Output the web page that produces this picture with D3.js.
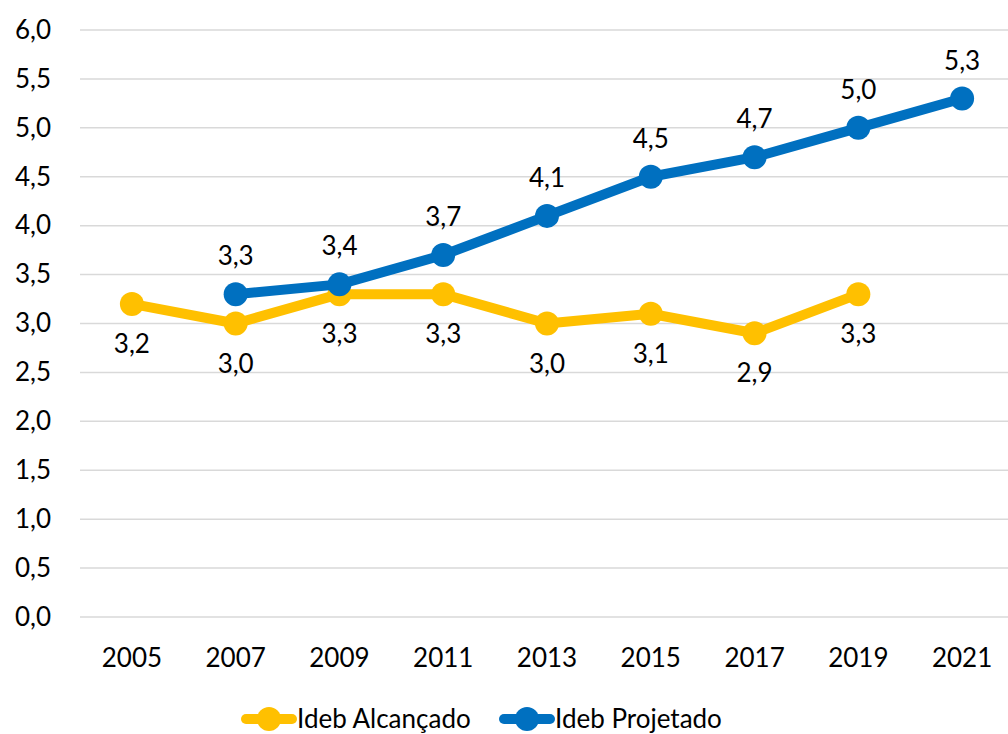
<!DOCTYPE html>
<html>
<head>
<meta charset="utf-8">
<script src="https://cdn.jsdelivr.net/npm/d3@7"></script>
<style>
  body { margin: 0; background: #fff; }
  svg text { font-family: Lato, "Noto Sans", sans-serif; fill: #000; }
</style>
</head>
<body>
<div class="chart"></div>
<script>
let years = ["2005", "2007", "2009", "2011", "2013", "2015", "2017", "2019", "2021"];
let alcancado = [3.2, 3.0, 3.3, 3.3, 3.0, 3.1, 2.9, 3.3, null];
let projetado = [null, 3.3, 3.4, 3.7, 4.1, 4.5, 4.7, 5.0, 5.3];
let yTicks = [0, 0.5, 1, 1.5, 2, 2.5, 3, 3.5, 4, 4.5, 5, 5.5, 6];

let svgWidth = 1008;
let svgHeight = 734;

let svg = d3.select(".chart")
  .append("svg")
  .attr("width", svgWidth)
  .attr("height", svgHeight);

let xScale = d3.scaleBand()
  .domain(years)
  .range([80, 1014]);

let yScale = d3.scaleLinear()
  .domain([0, 6])
  .range([617, 30]);

let fmt = v => d3.format(".1f")(v).replace(".", ",");

// gridlines
svg.append("g")
  .selectAll("line")
  .data(yTicks)
  .enter()
  .append("line")
  .attr("x1", 80)
  .attr("x2", 1008)
  .attr("y1", d => yScale(d))
  .attr("y2", d => yScale(d))
  .attr("stroke", "#d9d9d9")
  .attr("stroke-width", 1.5);

// y axis labels
let leftAxis = d3.axisLeft(yScale).tickValues(yTicks).tickFormat(fmt).tickSize(0).tickPadding(0);
let yAxisG = svg.append("g")
  .attr("transform", "translate(51,0)")
  .call(leftAxis);
yAxisG.select(".domain").remove();
yAxisG.selectAll("text")
  .attr("font-size", "26px")
  .attr("font-family", "Lato, 'Noto Sans', sans-serif")
  .attr("fill", "#000");

// x axis labels
let bottomAxis = d3.axisBottom(xScale).tickSize(0).tickPadding(0);
let xAxisG = svg.append("g")
  .attr("transform", "translate(0,649)")
  .call(bottomAxis);
xAxisG.select(".domain").remove();
xAxisG.selectAll("text")
  .attr("font-size", "26px")
  .attr("font-family", "Lato, 'Noto Sans', sans-serif")
  .attr("fill", "#000");

let cx = d => xScale(d.year) + xScale.bandwidth() / 2;

function drawSeries(values, color, labelOffset) {
  let pts = years.map((y, i) => ({ year: y, value: values[i] }))
    .filter(d => d.value !== null);

  let line = d3.line()
    .x(cx)
    .y(d => yScale(d.value));

  svg.append("path")
    .datum(pts)
    .attr("fill", "none")
    .attr("stroke", color)
    .attr("stroke-width", 10)
    .attr("stroke-linejoin", "round")
    .attr("d", line);

  svg.append("g")
    .selectAll("circle")
    .data(pts)
    .enter()
    .append("circle")
    .attr("cx", cx)
    .attr("cy", d => yScale(d.value))
    .attr("r", 12)
    .attr("fill", color);

  svg.append("g")
    .selectAll("text")
    .data(pts)
    .enter()
    .append("text")
    .attr("x", cx)
    .attr("y", d => yScale(d.value) + labelOffset)
    .attr("dy", "0.35em")
    .attr("text-anchor", "middle")
    .attr("font-size", "26px")
    .text(d => fmt(d.value));
}

drawSeries(alcancado, "#FFC000", 40);
drawSeries(projetado, "#0070C0", -38);

// legend
let legendItems = [
  { name: "Ideb Alcançado", color: "#FFC000", x: 242 },
  { name: "Ideb Projetado", color: "#0070C0", x: 500 }
];
let legend = svg.append("g")
  .selectAll("g")
  .data(legendItems)
  .enter()
  .append("g")
  .attr("transform", d => `translate(${d.x},719)`);

legend.append("line")
  .attr("x1", 4).attr("x2", 50)
  .attr("stroke", d => d.color)
  .attr("stroke-width", 10)
  .attr("stroke-linecap", "round");

legend.append("circle")
  .attr("cx", 27)
  .attr("r", 12)
  .attr("fill", d => d.color);

legend.append("text")
  .attr("x", 55)
  .attr("dy", "0.35em")
  .attr("font-size", "26px")
  .text(d => d.name);
</script>
</body>
</html>
